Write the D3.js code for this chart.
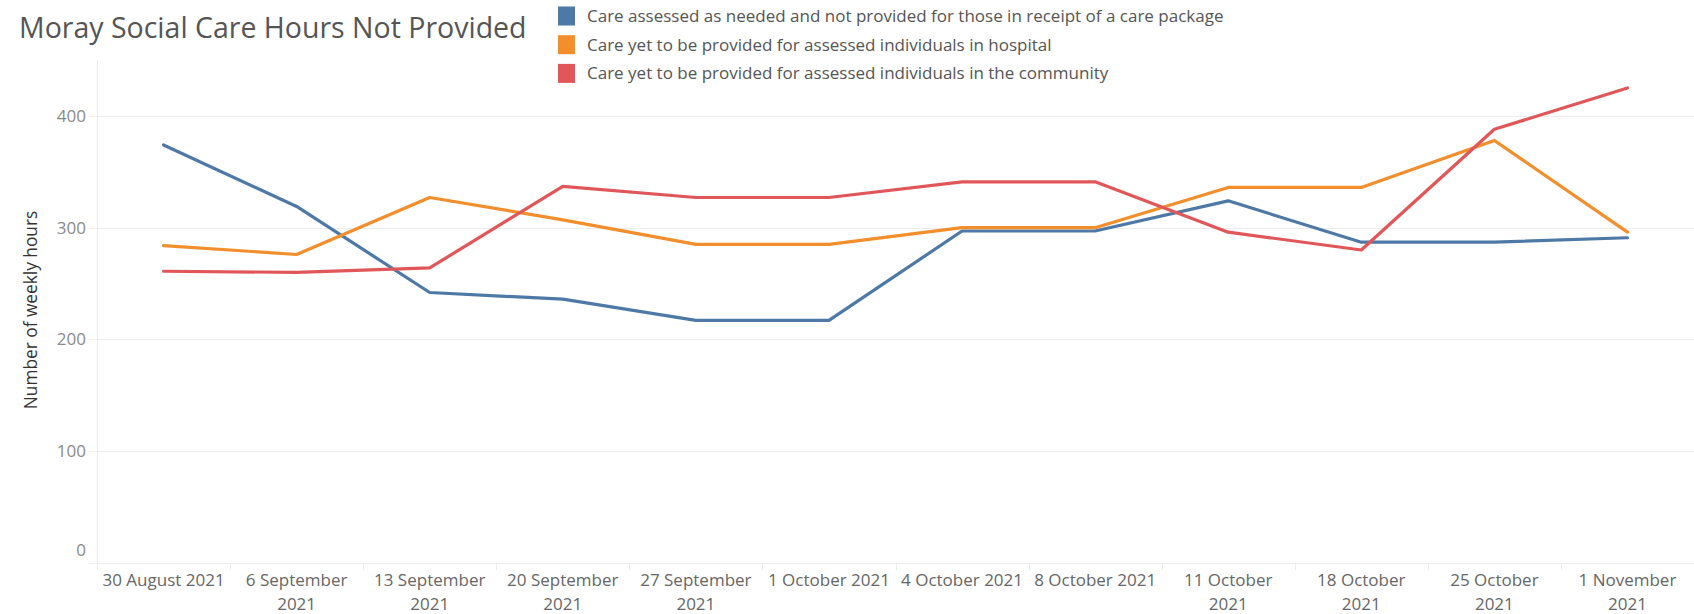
<!DOCTYPE html>
<html>
<head>
<meta charset="utf-8">
<script src="https://cdn.jsdelivr.net/npm/d3@7"></script>
<style>
  html, body { margin: 0; padding: 0; background: #ffffff; }
  svg { display: block; }
  text { font-family: "Open Sans", "Noto Sans", sans-serif; }
</style>
</head>
<body>
<svg id="chart" width="1694" height="614"></svg>
<script>
// ---------------- data ----------------
const categories = [
  "30 August 2021", "6 September 2021", "13 September 2021", "20 September 2021",
  "27 September 2021", "1 October 2021", "4 October 2021", "8 October 2021",
  "11 October 2021", "18 October 2021", "25 October 2021", "1 November 2021"
];
const categoryLabelLines = [
  ["30 August 2021"], ["6 September", "2021"], ["13 September", "2021"], ["20 September", "2021"],
  ["27 September", "2021"], ["1 October 2021"], ["4 October 2021"], ["8 October 2021"],
  ["11 October", "2021"], ["18 October", "2021"], ["25 October", "2021"], ["1 November", "2021"]
];
const seriesNames = [
  "Care assessed as needed and not provided for those in receipt of a care package",
  "Care yet to be provided for assessed individuals in hospital",
  "Care yet to be provided for assessed individuals in the community"
];
const seriesColors = ["#4e79a7", "#f28e2b", "#e15759"];
const packageHours   = [374, 319, 242, 236, 217, 217, 297, 297, 324, 287, 287, 291];
const hospitalHours  = [284, 276, 327, 307, 285, 285, 300, 300, 336, 336, 378, 296];
const communityHours = [261, 260, 264, 337, 327, 327, 341, 341, 296, 280, 388, 425];
const yTicks = [0, 100, 200, 300, 400];
const chartTitle = "Moray Social Care Hours Not Provided";
const yAxisTitle = "Number of weekly hours";

// ---------------- layout ----------------
const svg = d3.select("#chart");
const plot = { left: 97, right: 1694, top: 60, bottom: 563 };

const x = d3.scaleBand().domain(categories).range([plot.left, plot.right]).padding(0);
const y = d3.scaleLinear().domain([0, 450]).range([plot.bottom, plot.top]);
const cx = d => x(d) + x.bandwidth() / 2;

// title
svg.append("text")
  .attr("x", 19).attr("y", 38)
  .attr("font-size", 28.5).attr("fill", "#555555")
  .text(chartTitle);

// legend
const legend = svg.append("g");
seriesNames.forEach((name, i) => {
  const cy = 16 + i * 28.7;
  legend.append("rect")
    .attr("x", 558).attr("y", cy - 9.5).attr("width", 17).attr("height", 19)
    .attr("fill", seriesColors[i]);
  legend.append("text")
    .attr("x", 587).attr("y", cy).attr("dy", "0.35em")
    .attr("font-size", 17).attr("fill", "#555555")
    .text(name);
});

// gridlines
svg.append("g").selectAll("line").data(yTicks.filter(t => t > 0)).join("line")
  .attr("x1", 89).attr("x2", plot.right)
  .attr("y1", d => Math.round(y(d)) + 0.5).attr("y2", d => Math.round(y(d)) + 0.5)
  .attr("stroke", "#ededed").attr("stroke-width", 1);

// left border and bottom line
svg.append("line")
  .attr("x1", plot.left + 0.5).attr("x2", plot.left + 0.5)
  .attr("y1", plot.top).attr("y2", plot.bottom + 7)
  .attr("stroke", "#ececec");
svg.append("line")
  .attr("x1", 89).attr("x2", plot.right)
  .attr("y1", plot.bottom + 0.5).attr("y2", plot.bottom + 0.5)
  .attr("stroke", "#ececec");

// y axis labels
const yLab = svg.append("g");
yTicks.forEach(t => {
  const yy = t === 0 ? y(t) - 13 : y(t);
  yLab.append("text")
    .attr("x", 86).attr("y", yy).attr("dy", "0.35em")
    .attr("text-anchor", "end").attr("font-size", 17).attr("fill", "#8a8a8a")
    .text(d3.format("d")(t));
});

// y axis title
svg.append("text")
  .attr("transform", `translate(37,310) rotate(-90)`)
  .attr("text-anchor", "middle").attr("font-size", 17.3).attr("fill", "#333333")
  .text(yAxisTitle);

// x header separators
svg.append("g").selectAll("line").data(categories).join("line")
  .attr("x1", d => Math.round(x(d)) + 0.5).attr("x2", d => Math.round(x(d)) + 0.5)
  .attr("y1", plot.bottom).attr("y2", plot.bottom + 7)
  .attr("stroke", "#ececec");

// x labels
const xLab = svg.append("g");
categories.forEach((c, i) => {
  const lines = categoryLabelLines[i];
  const t = xLab.append("text")
    .attr("text-anchor", "middle").attr("font-size", 17).attr("fill", "#666666");
  lines.forEach((ln, j) => {
    t.append("tspan").attr("x", cx(c)).attr("y", 580 + j * 24).attr("dy", "0.35em").text(ln);
  });
});

// lines
const allSeries = [packageHours, hospitalHours, communityHours];
const lineGen = d3.line().x((d, i) => cx(categories[i])).y(d => y(d));
svg.append("g").selectAll("path").data(allSeries).join("path")
  .attr("d", d => lineGen(d))
  .attr("fill", "none")
  .attr("stroke", (d, i) => seriesColors[i])
  .attr("stroke-width", 3.2)
  .attr("stroke-linejoin", "round")
  .attr("stroke-linecap", "round");
</script>
</body>
</html>
